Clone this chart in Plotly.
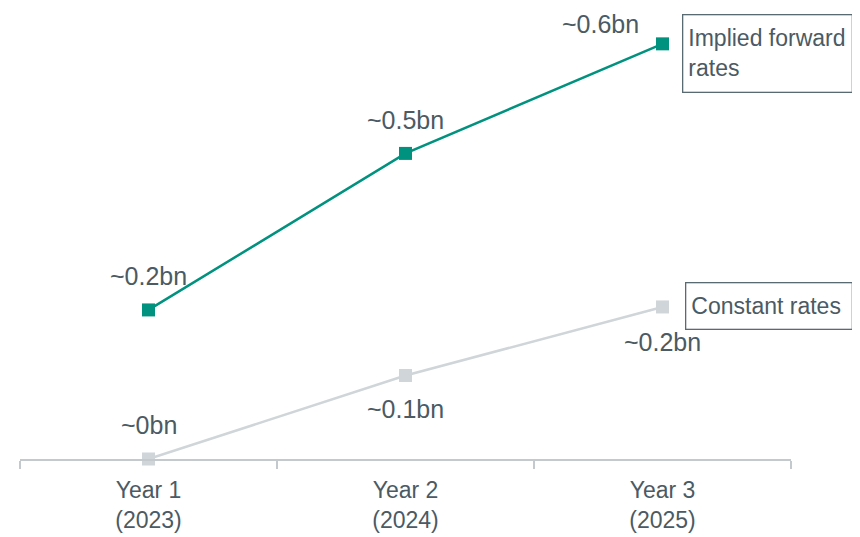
import plotly.graph_objects as go

categories = ["Year 1<br>(2023)", "Year 2<br>(2024)", "Year 3<br>(2025)"]
implied_values = [0.20, 0.41, 0.557]
implied_labels = ["~0.2bn", "~0.5bn", "~0.6bn"]
constant_values = [0.0, 0.112, 0.204]
constant_labels = ["~0bn", "~0.1bn", "~0.2bn"]

TEAL = "#00927f"
GREY = "#cfd5d8"
TEXT = "#4b5a63"
AXIS = "#c3c9cc"
BOX = "#5a6a72"
FONT = "Liberation Sans, Arial, sans-serif"

fig = go.Figure()
fig.add_trace(go.Scatter(x=categories, y=constant_values, mode="lines+markers",
                         line=dict(color=GREY, width=2.5),
                         marker=dict(symbol="square", size=13, color=GREY),
                         cliponaxis=False, showlegend=False, hoverinfo="skip"))
fig.add_trace(go.Scatter(x=categories, y=implied_values, mode="lines+markers",
                         line=dict(color=TEAL, width=2.5),
                         marker=dict(symbol="square", size=13, color=TEAL),
                         cliponaxis=False, showlegend=False, hoverinfo="skip"))

annotations = []
imp_shift = [(0, 34), (0, 33), (-62, 20)]
for c, v, t, (dx, dy) in zip(categories, implied_values, implied_labels, imp_shift):
    annotations.append(dict(x=c, y=v, text=t, showarrow=False, xshift=dx, yshift=dy,
                            font=dict(size=25, color=TEXT, family=FONT)))
con_shift = [(0, 34), (0, -33), (0, -35)]
for c, v, t, (dx, dy) in zip(categories, constant_values, constant_labels, con_shift):
    annotations.append(dict(x=c, y=v, text=t, showarrow=False, xshift=dx, yshift=dy,
                            font=dict(size=25, color=TEXT, family=FONT)))

annotations.append(dict(x=categories[2], y=implied_values[2], xanchor="left", yanchor="middle",
                        xshift=19, yshift=-9.5,
                        text="Implied forward<br>rates", showarrow=False, align="left",
                        width=158, height=66, valign="middle",
                        bordercolor=BOX, borderwidth=1.3, borderpad=5,
                        font=dict(size=23, color=TEXT, family=FONT)))
annotations.append(dict(x=categories[2], y=constant_values[2], xanchor="left", yanchor="middle",
                        xshift=22, yshift=1,
                        text="Constant rates", showarrow=False, align="left",
                        width=155, height=35, valign="middle",
                        bordercolor=BOX, borderwidth=1.3, borderpad=5,
                        font=dict(size=23, color=TEXT, family=FONT)))

fig.update_layout(
    width=860, height=537,
    margin=dict(l=12, r=77, t=12, b=83),
    paper_bgcolor="white", plot_bgcolor="white",
    font=dict(family=FONT, color=TEXT),
    annotations=annotations,
    xaxis=dict(type="category", range=[-0.5, 2.5], showline=True, linecolor=AXIS, linewidth=2,
               ticks="outside", tickson="boundaries", ticklen=8, tickcolor=AXIS, tickwidth=2,
               showgrid=False, zeroline=False, ticklabelstandoff=9,
               tickfont=dict(family=FONT, size=23, color=TEXT)),
    yaxis=dict(range=[0, 0.589], visible=False, showgrid=False, zeroline=False),
)

fig.write_html("out.html")
